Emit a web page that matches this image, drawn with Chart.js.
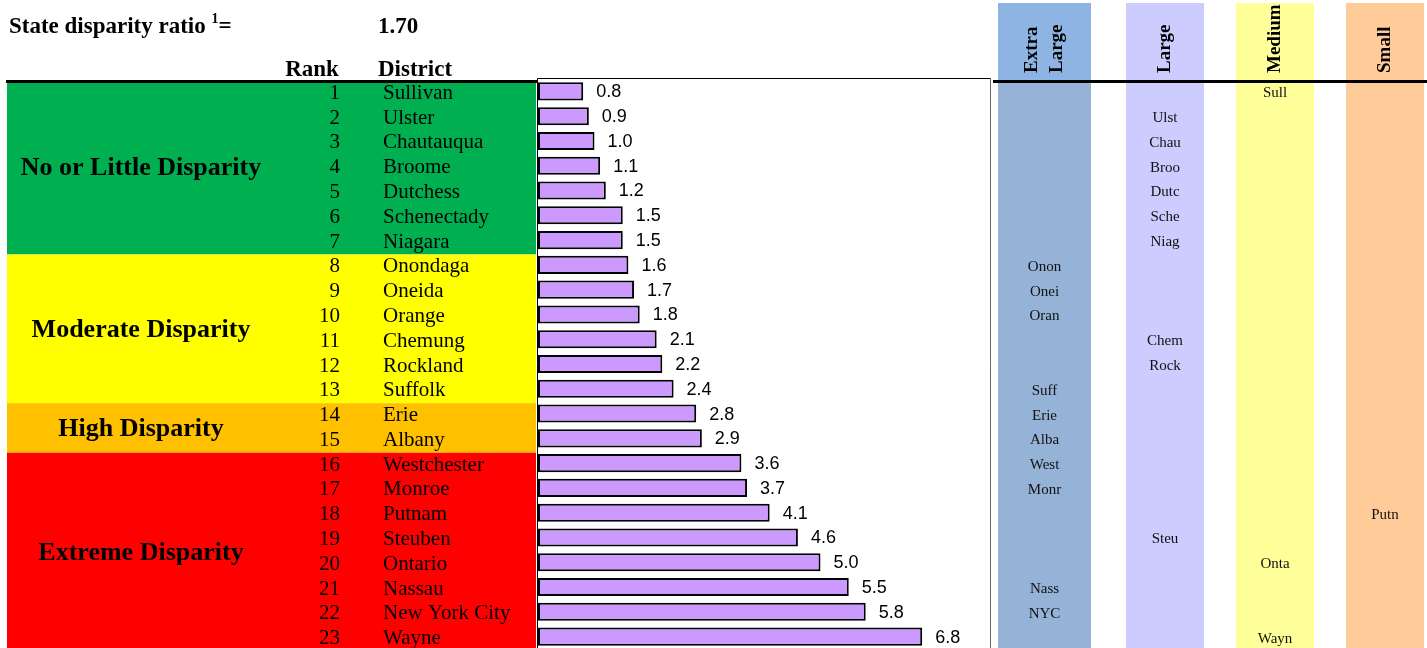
<!DOCTYPE html>
<html>
<head>
<meta charset="utf-8">
<script src="https://cdn.jsdelivr.net/npm/chart.js@4/dist/chart.umd.min.js"></script>
<style>
  html, body { margin: 0; padding: 0; background: #fff; overflow: hidden; }
  #wrap { position: relative; width: 1427px; height: 648px; overflow: hidden; }
  canvas { display: block; }
</style>
</head>
<body>
<div id="wrap"><canvas id="c" width="1427" height="650"></canvas></div>
<script>
// ---------- DATA ----------
const ranks = [1,2,3,4,5,6,7,8,9,10,11,12,13,14,15,16,17,18,19,20,21,22,23];
const districts = ['Sullivan','Ulster','Chautauqua','Broome','Dutchess','Schenectady','Niagara',
  'Onondaga','Oneida','Orange','Chemung','Rockland','Suffolk','Erie','Albany','Westchester',
  'Monroe','Putnam','Steuben','Ontario','Nassau','New York City','Wayne'];
const ratios = [0.8,0.9,1.0,1.1,1.2,1.5,1.5,1.6,1.7,1.8,2.1,2.2,2.4,2.8,2.9,3.6,3.7,4.1,4.6,5.0,5.5,5.8,6.8];
const abbrevs = ['Sull','Ulst','Chau','Broo','Dutc','Sche','Niag','Onon','Onei','Oran','Chem','Rock',
  'Suff','Erie','Alba','West','Monr','Putn','Steu','Onta','Nass','NYC','Wayn'];
const sizeClass = ['Medium','Large','Large','Large','Large','Large','Large','Extra Large','Extra Large',
  'Extra Large','Large','Large','Extra Large','Extra Large','Extra Large','Extra Large','Extra Large',
  'Small','Large','Medium','Extra Large','Extra Large','Medium'];
const sizeNames = ['Extra Large','Large','Medium','Small'];
const groupNames = ['No or Little Disparity','Moderate Disparity','High Disparity','Extreme Disparity'];
const groupFirstRank = [1,8,14,16];
const groupLastRank = [7,13,15,23];
const stateRatioLabel = 'State disparity ratio';
const stateRatioValue = '1.70';

// ---------- STYLES ----------
const groupColors = ['#00B050','#FFFF00','#FFC000','#FF0000'];
const sizeColumns = {
  'Extra Large': {x0: 998, x1: 1091, head: '#8DB4E2', body: '#95B3D7'},
  'Large':       {x0: 1126, x1: 1204, head: '#CCCCFF', body: '#CCCCFF'},
  'Medium':      {x0: 1236, x1: 1314, head: '#FFFF99', body: '#FFFF99'},
  'Small':       {x0: 1346, x1: 1424, head: '#FFCC99', body: '#FFCC99'}
};
const SERIF = '"Liberation Serif", "Times New Roman", serif';
const SANS = '"Liberation Sans", Arial, sans-serif';

const tablePlugin = {
  id: 'tablePlugin',
  beforeDraw(chart) {
    const ctx = chart.ctx;
    const y = chart.scales.y;
    const ca = chart.chartArea;
    const rowH = Math.abs(y.getPixelForValue(1) - y.getPixelForValue(0));
    ctx.save();
    ctx.fillStyle = '#fff';
    ctx.fillRect(0, 0, chart.width, chart.height);

    // group bands
    groupNames.forEach((g, gi) => {
      const top = y.getPixelForValue(groupFirstRank[gi] - 1) - rowH / 2 + 2;
      const bot = y.getPixelForValue(groupLastRank[gi] - 1) + rowH / 2 + 2;
      ctx.fillStyle = groupColors[gi];
      ctx.fillRect(7, top, 529, bot - top);
      ctx.fillStyle = '#000';
      ctx.font = 'bold 26px ' + SERIF;
      ctx.textAlign = 'center';
      ctx.textBaseline = 'middle';
      ctx.fillText(g, 141, (top + bot) / 2 + 1);
    });

    // rank + district
    ctx.font = '21px ' + SERIF;
    ctx.textBaseline = 'middle';
    districts.forEach((d, i) => {
      const cy = y.getPixelForValue(i) + 2;
      ctx.fillStyle = '#000';
      ctx.textAlign = 'right';
      ctx.fillText(String(ranks[i]), 340, cy);
      ctx.textAlign = 'left';
      ctx.fillText(d, 383, cy);
    });

    // headers
    ctx.textBaseline = 'alphabetic';
    ctx.font = 'bold 23px ' + SERIF;
    ctx.textAlign = 'left';
    ctx.fillText(stateRatioLabel, 9, 33);
    let w = ctx.measureText(stateRatioLabel + ' ').width;
    ctx.font = 'bold 14px ' + SERIF;
    ctx.fillText('1', 9 + w, 23);
    const w2 = ctx.measureText('1').width;
    ctx.font = 'bold 23px ' + SERIF;
    ctx.fillText('=', 9 + w + w2, 33);
    ctx.fillText(stateRatioValue, 378, 33);
    ctx.textAlign = 'center';
    ctx.fillText('Rank', 312, 76);
    ctx.textAlign = 'left';
    ctx.fillText('District', 378, 76);

    // size columns
    sizeNames.forEach(name => {
      const c = sizeColumns[name];
      ctx.fillStyle = c.head;
      ctx.fillRect(c.x0, 3, c.x1 - c.x0, 78);
      ctx.fillStyle = c.body;
      ctx.fillRect(c.x0, 81, c.x1 - c.x0, chart.height - 81);
      const cx = (c.x0 + c.x1) / 2;
      ctx.save();
      ctx.fillStyle = '#000';
      ctx.font = 'bold 19px ' + SERIF;
      ctx.textAlign = 'left';
      ctx.textBaseline = 'middle';
      const parts = name.split(' ');
      const sp = 25;
      parts.forEach((p, k) => {
        const px = cx + (k - (parts.length - 1) / 2) * sp;
        ctx.save();
        ctx.translate(px, 73);
        ctx.rotate(-Math.PI / 2);
        ctx.fillText(p, 0, 0);
        ctx.restore();
      });
      ctx.restore();
    });

    // abbreviations in size columns
    ctx.font = '15px ' + SERIF;
    ctx.textAlign = 'center';
    ctx.textBaseline = 'middle';
    ctx.fillStyle = '#111';
    abbrevs.forEach((a, i) => {
      const c = sizeColumns[sizeClass[i]];
      ctx.fillText(a, (c.x0 + c.x1) / 2, y.getPixelForValue(i) + 2);
    });

    // thick rule
    ctx.fillStyle = '#000';
    ctx.fillRect(6, 80, 531, 3);
    ctx.fillRect(993, 80, 434, 3);

    // chart box
    ctx.fillStyle = '#fff';
    ctx.fillRect(ca.left, ca.top - 1, ca.right - ca.left, ca.bottom - ca.top + 1);
    ctx.strokeStyle = '#000';
    ctx.lineWidth = 1;
    ctx.beginPath();
    ctx.moveTo(537.5, ca.bottom + 2);
    ctx.lineTo(537.5, 78.5);
    ctx.lineTo(990.5, 78.5);
    ctx.stroke();
    ctx.strokeStyle = '#666';
    ctx.beginPath();
    ctx.moveTo(990.5, 78.5);
    ctx.lineTo(990.5, ca.bottom + 2);
    ctx.stroke();
    ctx.restore();
  },
  afterDatasetsDraw(chart) {
    const ctx = chart.ctx;
    const meta = chart.getDatasetMeta(0);
    ctx.save();
    ctx.font = '18px ' + SANS;
    ctx.fillStyle = '#000';
    ctx.textAlign = 'left';
    ctx.textBaseline = 'middle';
    meta.data.forEach((bar, i) => {
      ctx.fillText(ratios[i].toFixed(1), bar.x + 13, bar.y + 1);
    });
    ctx.restore();
  }
};

new Chart(document.getElementById('c'), {
  type: 'bar',
  data: {
    labels: districts,
    datasets: [{
      data: ratios,
      backgroundColor: '#CC99FF',
      borderColor: '#000',
      borderWidth: 2,
      borderSkipped: false,
      barPercentage: 0.73,
      categoryPercentage: 1
    }]
  },
  options: {
    indexAxis: 'y',
    responsive: false,
    animation: false,
    devicePixelRatio: 1,
    layout: { padding: { left: 538, right: 437, top: 79, bottom: 1 } },
    plugins: { legend: { display: false }, tooltip: { enabled: false } },
    scales: {
      x: { display: false, min: 0, max: 8 },
      y: { display: false, offset: true }
    }
  },
  plugins: [tablePlugin]
});
</script>
</body>
</html>
